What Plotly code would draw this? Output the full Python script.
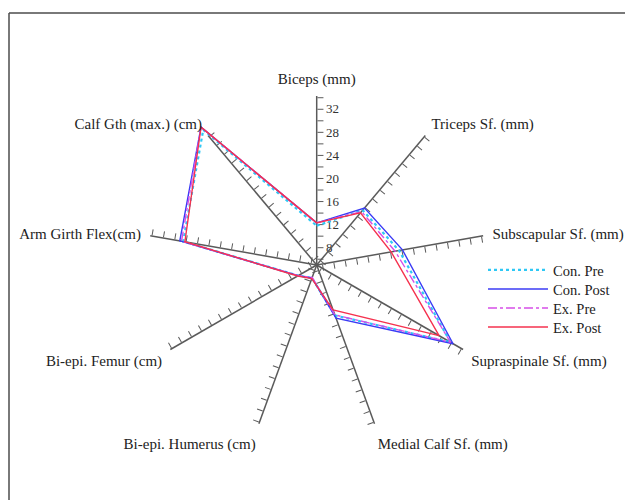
import plotly.graph_objects as go

# Anthropometric profile: nine measurements, pre/post for control and exercise groups
categories = [
    "Biceps (mm)",
    "Triceps Sf. (mm)",
    "Subscapular Sf. (mm)",
    "Supraspinale Sf. (mm)",
    "Medial Calf Sf. (mm)",
    "Bi-epi. Humerus (cm)",
    "Bi-epi. Femur (cm)",
    "Arm Girth Flex(cm)",
    "Calf Gth (max.) (cm)",
]

con_pre = [11.8, 17.4, 19.5, 31.8, 14.3, 7.4, 8.7, 28.5, 35.6]
con_post = [12.3, 17.9, 20.1, 32.3, 14.8, 7.4, 8.7, 29.1, 36.2]
ex_pre = [12.3, 17.1, 18.8, 31.8, 14.2, 7.3, 8.7, 28.8, 36.2]
ex_post = [12.3, 16.8, 18.1, 29.5, 13.3, 7.5, 8.8, 28.2, 36.2]

series_names = ["Con. Pre", "Con. Post", "Ex. Pre", "Ex. Post"]
series_values = [con_pre, con_post, ex_pre, ex_post]

axis_range = [5, 34.3]        # drawn extent of every spoke
data_range = [5, 36.8]        # wider window so the calf girth vertex is not clipped
tick_vals = list(range(6, 35, 2))
tick_labels = [str(v) if v % 4 == 0 and v <= 32 else "" for v in tick_vals]

# ---- styling ----
W, H = 625, 500
CX, CY = 316.7, 265.0                     # chart centre, px
SPOKE_LEN = 169.0                         # px length of each spoke
LABEL_RADIUS = 178.0                      # px radius of the category label ring
PX_PER_UNIT = SPOKE_LEN / (axis_range[1] - axis_range[0])
SERIF = "Liberation Serif, Times New Roman, serif"
AXIS_COLOR = "#5a5a5a"
LEGEND_LEFT = 483                         # px
LEGEND_ROW0, LEGEND_STEP = 270, 19        # px, centre of first row and row pitch
styles = [
    dict(color="#2ec8f5", width=2.2, dash="dot"),
    dict(color="#3b3bf5", width=1.4, dash="solid"),
    dict(color="#d64fe8", width=1.4, dash="dashdot"),
    dict(color="#f5324f", width=1.4, dash="solid"),
]


def domain(radius_px):
    return dict(x=[(CX - radius_px) / W, (CX + radius_px) / W],
                y=[(H - CY - radius_px) / H, (H - CY + radius_px) / H])


n = len(categories)
spoke_angles = [90 - 360 / n * i for i in range(n)]
spoke_angles = [a if a > -180 else a + 360 for a in spoke_angles]

hidden_angular = dict(visible=False, type="category", categoryarray=categories,
                      rotation=90, direction="clockwise")

fig = go.Figure()
layout_polars = {}

# one overlaid polar subplot per spoke, each showing only its radial axis
for i in range(n):
    name = "polar" if i == 0 else f"polar{i + 1}"
    layout_polars[name] = dict(
        domain=domain(SPOKE_LEN),
        bgcolor="rgba(0,0,0,0)",
        radialaxis=dict(
            range=axis_range,
            angle=spoke_angles[i],
            side="clockwise",
            showline=True,
            linecolor=AXIS_COLOR,
            linewidth=1.5,
            showgrid=False,
            ticks="outside",
            ticklen=6,
            tickwidth=1.2,
            tickcolor=AXIS_COLOR,
            tickmode="array",
            tickvals=tick_vals,
            ticktext=tick_labels if i == 0 else [""] * len(tick_vals),
            tickangle=90,
            tickfont=dict(family=SERIF, size=13, color="#333333"),
        ),
        angularaxis=hidden_angular,
    )
    fig.add_trace(go.Scatterpolar(r=[None], theta=[categories[0]], mode="lines",
                                  showlegend=False, hoverinfo="skip", subplot=name))

# data subplot on top: same px-per-unit scale, larger window
data_name = f"polar{n + 1}"
layout_polars[data_name] = dict(
    domain=domain(PX_PER_UNIT * (data_range[1] - data_range[0])),
    bgcolor="rgba(0,0,0,0)",
    radialaxis=dict(range=data_range, visible=False, showgrid=False),
    angularaxis=hidden_angular,
)
legends = {}
for k, (sname, vals, st) in enumerate(zip(series_names, series_values, styles)):
    leg = "legend" if k == 0 else f"legend{k + 1}"
    fig.add_trace(go.Scatterpolar(
        r=vals + vals[:1],
        theta=categories + categories[:1],
        mode="lines",
        name=sname,
        line=st,
        subplot=data_name,
        legend=leg,
    ))
    legends[leg] = dict(
        x=LEGEND_LEFT / W,
        y=1 - (LEGEND_ROW0 + k * LEGEND_STEP) / H,
        xanchor="left",
        yanchor="middle",
        itemwidth=60,
        font=dict(family=SERIF, size=14.5, color="#222222"),
        bgcolor="rgba(0,0,0,0)",
    )

# category labels ring
label_name = f"polar{n + 2}"
layout_polars[label_name] = dict(
    domain=domain(LABEL_RADIUS),
    bgcolor="rgba(0,0,0,0)",
    radialaxis=dict(visible=False, showgrid=False, range=[0, 1]),
    angularaxis=dict(
        type="category",
        categoryorder="array",
        categoryarray=categories,
        rotation=90,
        direction="clockwise",
        showline=False,
        showgrid=False,
        ticks="",
        tickfont=dict(family=SERIF, size=15, color="#222222"),
    ),
)
fig.add_trace(go.Scatterpolar(r=[None] * n, theta=categories, mode="lines",
                              showlegend=False, hoverinfo="skip", subplot=label_name))

fig.update_layout(
    width=W,
    height=H,
    margin=dict(l=0, r=0, t=0, b=0),
    paper_bgcolor="white",
    plot_bgcolor="white",
    showlegend=True,
    shapes=[
        dict(type="line", xref="paper", yref="paper", x0=9 / W, x1=1.0,
             y0=1 - 13 / H, y1=1 - 13 / H, line=dict(color="#4d4d4d", width=1.5)),
        dict(type="line", xref="paper", yref="paper", x0=9 / W, x1=9 / W,
             y0=1 - 13 / H, y1=0.0, line=dict(color="#4d4d4d", width=1.5)),
    ],
    **legends,
    **layout_polars,
)

fig.write_html("out.html", config=dict(displayModeBar=False))
